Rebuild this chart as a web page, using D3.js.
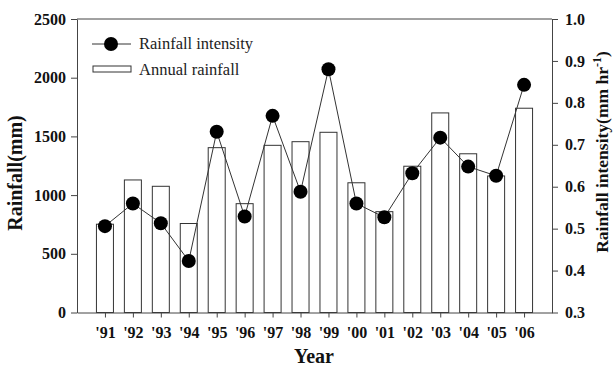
<!DOCTYPE html>
<html>
<head>
<meta charset="utf-8">
<script src="https://cdn.jsdelivr.net/npm/d3@7"></script>
<style>
  html, body { margin: 0; padding: 0; background: #fff; }
  svg { display: block; }
  text { font-family: "Liberation Serif", "Times New Roman", serif; }
</style>
</head>
<body>
<svg id="chart" width="615" height="371"></svg>
<script>
// Annual rainfall and rainfall intensity, 1991-2006
const years = [91, 92, 93, 94, 95, 96, 97, 98, 99, 100, 101, 102, 103, 104, 105, 106];
const yearLabels = ["'91", "'92", "'93", "'94", "'95", "'96", "'97", "'98", "'99", "'00", "'01", "'02", "'03", "'04", "'05", "'06"];
const annualRainfall = [752, 1129, 1075, 758, 1404, 927, 1424, 1455, 1535, 1105, 859, 1246, 1700, 1352, 1163, 1740];
const rainfallIntensity = [0.506, 0.560, 0.513, 0.423, 0.731, 0.529, 0.769, 0.588, 0.880, 0.560, 0.527, 0.632, 0.717, 0.648, 0.626, 0.843];
const rainTicks = [0, 500, 1000, 1500, 2000, 2500];
const intensityTicks = [0.3, 0.4, 0.5, 0.6, 0.7, 0.8, 0.9, 1.0];

const svg = d3.select("#chart");
const m = { left: 77, right: 63, top: 19, bottom: 58.5 };
const W = 615, H = 371;
const iw = W - m.left - m.right, ih = H - m.top - m.bottom;

const x = d3.scaleLinear().domain([90, 107]).range([0, iw]);
const yL = d3.scaleLinear().domain([0, 2500]).range([ih, 0]);
const yR = d3.scaleLinear().domain([0.3, 1.0]).range([ih, 0]);
const barW = 17;
const axisColor = "#444";

const g = svg.append("g").attr("transform", `translate(${m.left},${m.top})`);

// frame top
g.append("line").attr("x1", 0).attr("x2", iw).attr("y1", 0).attr("y2", 0)
  .attr("stroke", axisColor).attr("stroke-width", 1);

// bars
g.selectAll("rect.bar").data(years).join("rect")
  .attr("class", "bar")
  .attr("x", (d) => x(d) - barW / 2)
  .attr("width", barW)
  .attr("y", (d, i) => yL(annualRainfall[i]))
  .attr("height", (d, i) => ih - yL(annualRainfall[i]))
  .attr("fill", "#fff").attr("stroke", "#333").attr("stroke-width", 1);

// axes
function styleAxis(sel) {
  sel.select(".domain").attr("stroke", axisColor).attr("stroke-width", 1);
  sel.selectAll(".tick line").attr("stroke", axisColor);
  sel.selectAll("text").attr("fill", "#111").attr("font-weight", "bold")
    .attr("font-size", 16).attr("font-family", "Liberation Serif, serif");
}
g.append("g").call(d3.axisLeft(yL).tickValues(rainTicks).tickFormat(d3.format("d")).tickSize(6).tickSizeOuter(0).tickPadding(5))
  .call(styleAxis);
g.append("g").attr("transform", `translate(${iw},0)`)
  .call(d3.axisRight(yR).tickValues(intensityTicks).tickFormat(d3.format(".1f")).tickSize(6).tickSizeOuter(0).tickPadding(7))
  .call(styleAxis);
g.append("g").attr("transform", `translate(0,${ih})`)
  .call(d3.axisBottom(x).tickValues(years).tickFormat((d, i) => yearLabels[i]).tickSize(5).tickSizeOuter(0).tickPadding(9))
  .call(styleAxis);

// intensity line and markers
const line = d3.line().x((d) => x(d)).y((d, i) => yR(rainfallIntensity[i]));
g.append("path").datum(years).attr("d", line)
  .attr("fill", "none").attr("stroke", "#333").attr("stroke-width", 1);
g.selectAll("circle.pt").data(years).join("circle")
  .attr("class", "pt")
  .attr("cx", (d) => x(d)).attr("cy", (d, i) => yR(rainfallIntensity[i]))
  .attr("r", 7).attr("fill", "#000");

// legend
const lg = svg.append("g");
lg.append("line").attr("x1", 92).attr("x2", 131).attr("y1", 44).attr("y2", 44)
  .attr("stroke", "#333").attr("stroke-width", 1);
lg.append("circle").attr("cx", 111).attr("cy", 44).attr("r", 7).attr("fill", "#000");
lg.append("text").attr("x", 139).attr("y", 49).attr("font-size", 16.5).attr("fill", "#222")
  .text("Rainfall intensity");
lg.append("rect").attr("x", 93).attr("y", 66).attr("width", 38).attr("height", 6)
  .attr("fill", "#fff").attr("stroke", "#333").attr("stroke-width", 1);
lg.append("text").attr("x", 139).attr("y", 75).attr("font-size", 16.5).attr("fill", "#222")
  .text("Annual rainfall");

// axis titles
svg.append("text").attr("transform", "translate(22,173) rotate(-90)")
  .attr("text-anchor", "middle").attr("font-size", 20).attr("font-weight", "bold").attr("fill", "#111")
  .text("Rainfall(mm)");
svg.append("text").attr("x", 314).attr("y", 363)
  .attr("text-anchor", "middle").attr("font-size", 20).attr("font-weight", "bold").attr("fill", "#111")
  .text("Year");
const rt = svg.append("text").attr("transform", "translate(608,152) rotate(-90)")
  .attr("text-anchor", "middle").attr("font-size", 17.5).attr("font-weight", "bold").attr("fill", "#111");
rt.append("tspan").text("Rainfall intensity(mm hr");
rt.append("tspan").attr("baseline-shift", "super").attr("font-size", 12).text("-1");
rt.append("tspan").text(")");
</script>
</body>
</html>
